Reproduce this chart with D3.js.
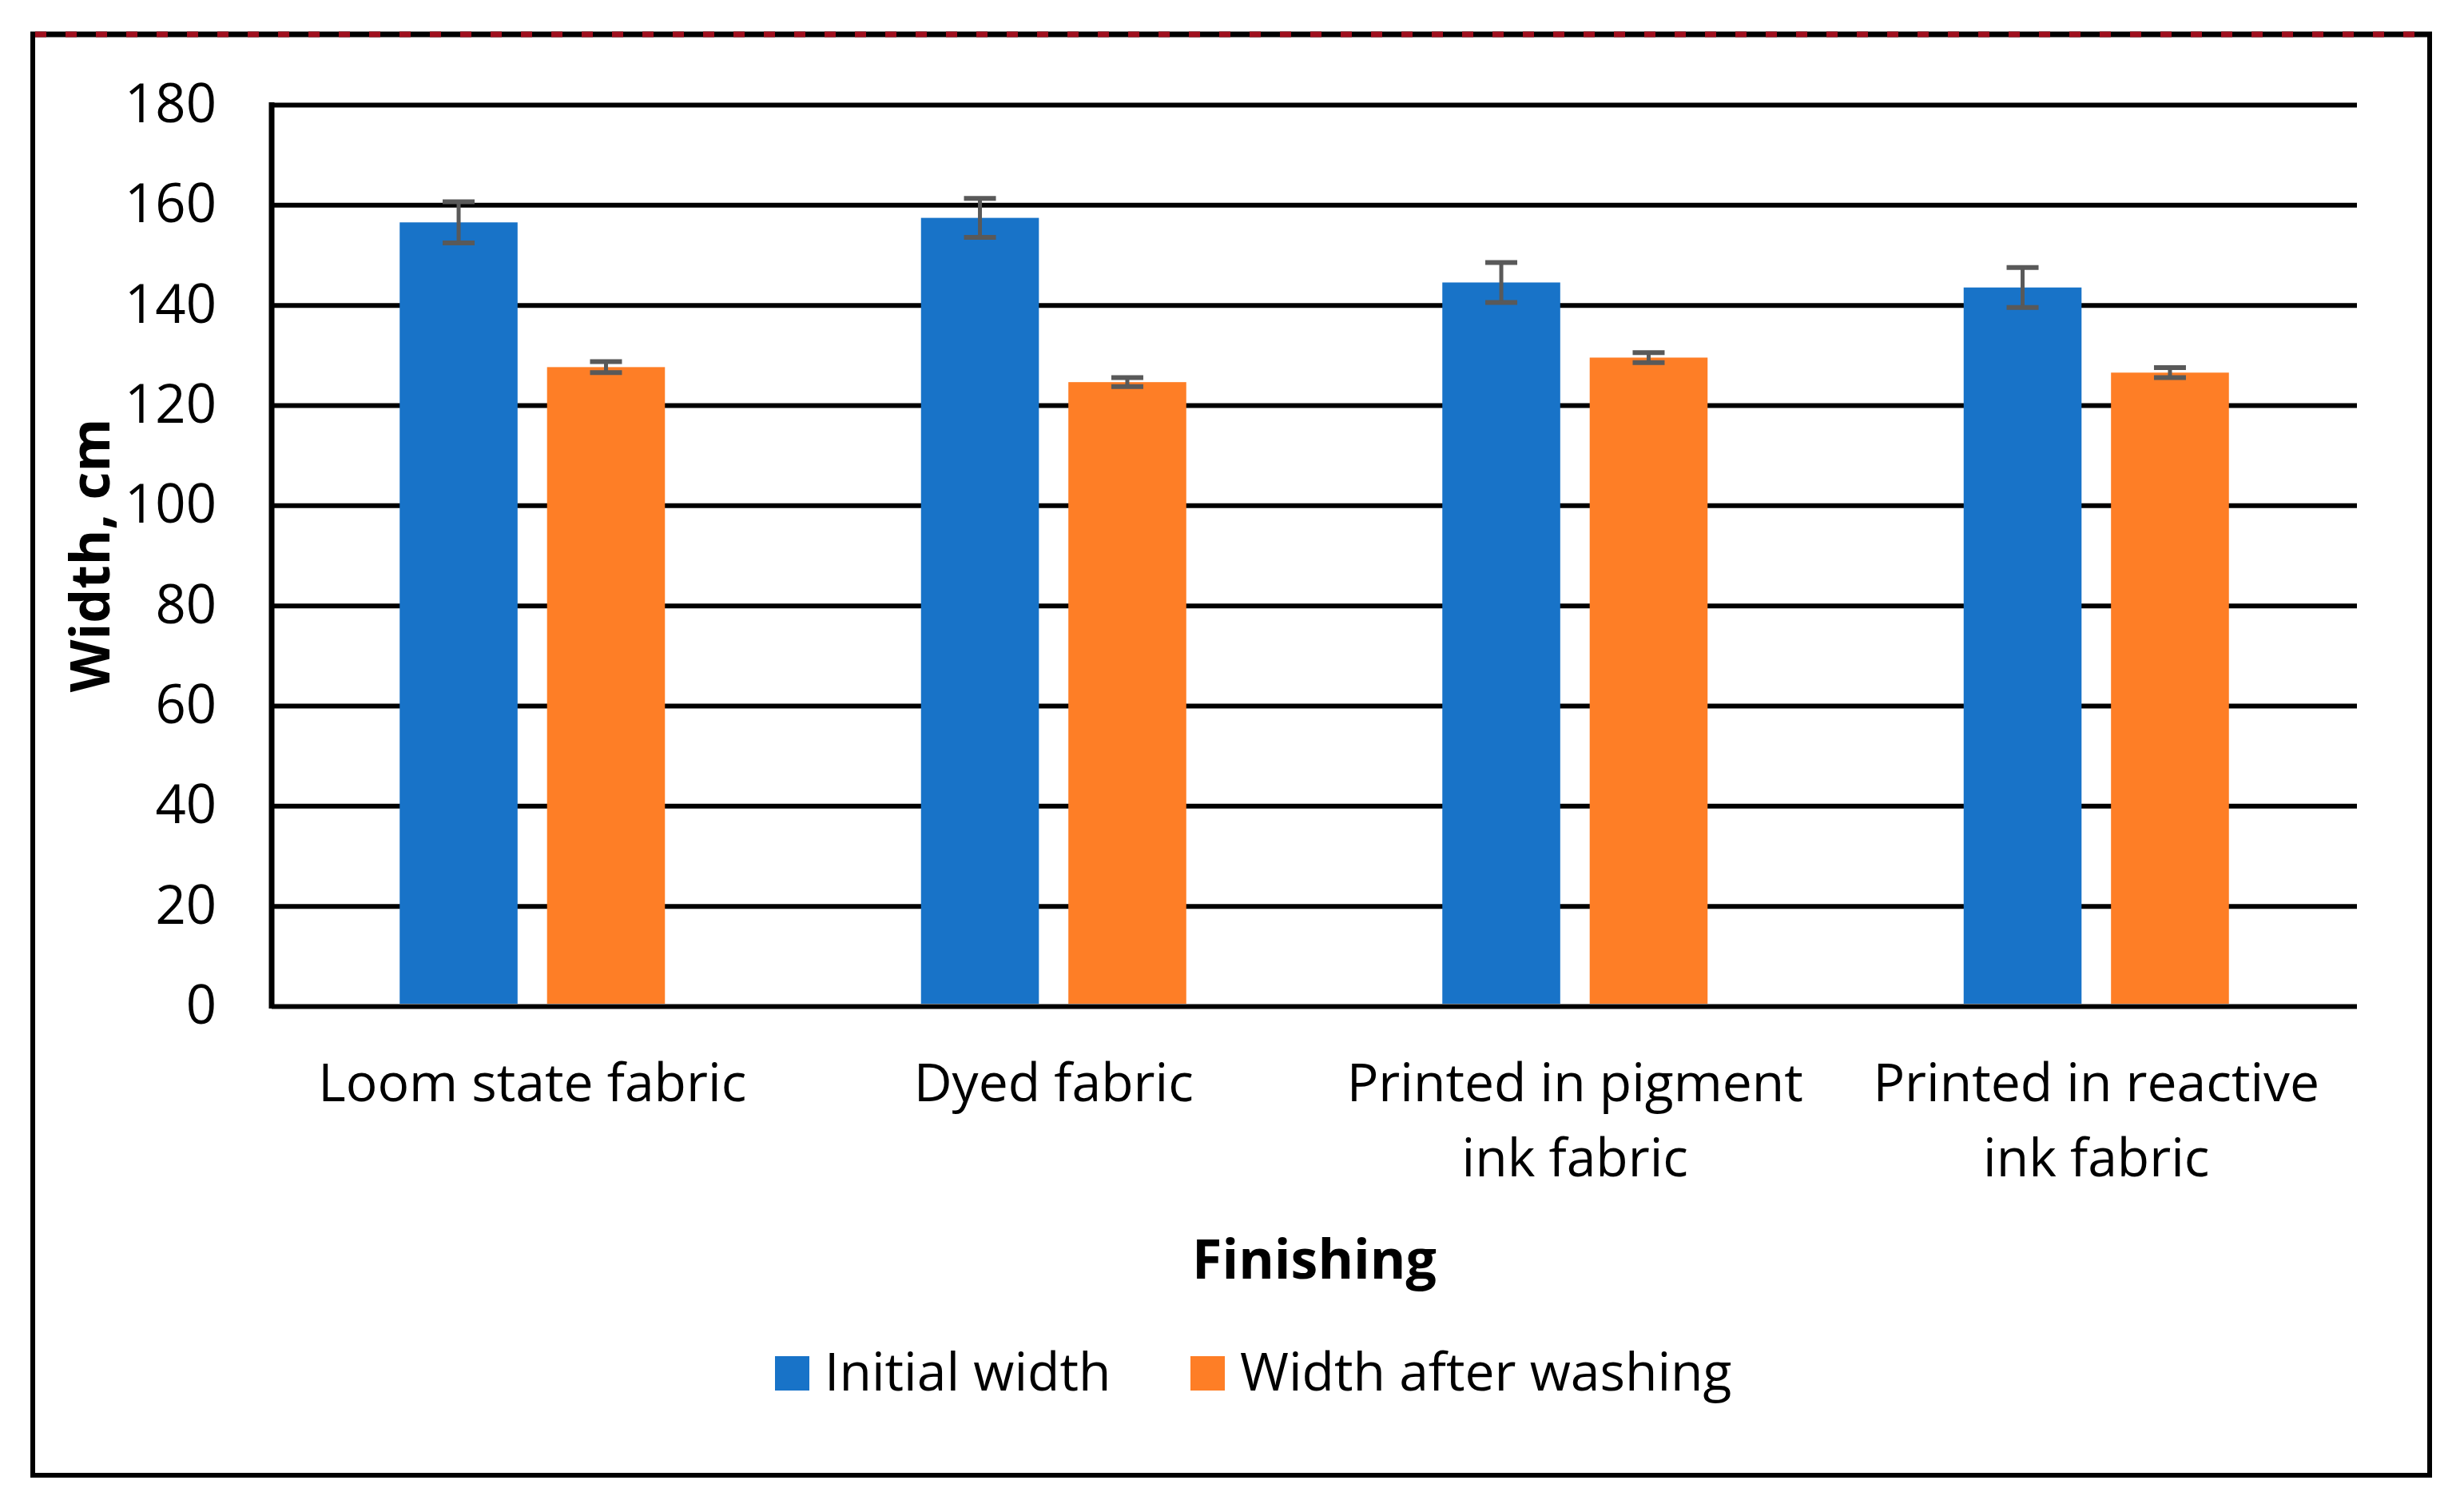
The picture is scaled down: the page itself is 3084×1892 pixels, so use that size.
<!DOCTYPE html>
<html>
<head>
<meta charset="utf-8">
<script src="https://cdn.jsdelivr.net/npm/d3@7"></script>
<style>
  body { margin: 0; background: #fff; }
  svg text { font-family: "Open Sans", sans-serif; fill: #000; }
</style>
</head>
<body>
<svg id="chart"></svg>
<script>
// Width of fabric before and after washing, by finishing
const categories = ['Loom state fabric', 'Dyed fabric', 'Printed in pigment ink fabric', 'Printed in reactive ink fabric'];
const categoryLines = [['Loom state fabric'], ['Dyed fabric'], ['Printed in pigment', 'ink fabric'], ['Printed in reactive', 'ink fabric']];
const series = ['Initial width', 'Width after washing'];
const initialWidth = [156.5, 157.4, 144.5, 143.5];
const initialErr = [4.1, 3.9, 4.0, 4.0];
const afterWashing = [127.6, 124.6, 129.5, 126.5];
const afterErr = [1.1, 0.9, 1.0, 1.0];
const yTicks = [0, 20, 40, 60, 80, 100, 120, 140, 160, 180];

const COLORS = { 'Initial width': '#1873C8', 'Width after washing': '#FE7E26' };

const W = 3084, H = 1892;
const plot = { left: 340, right: 2950, top: 131, bottom: 1259 };

const svg = d3.select('#chart').attr('width', W).attr('height', H);

// outer frame
const frame = svg.append('g');
frame.append('path')
  .attr('d', `M41,43 V1846 H3041 V43`)
  .attr('fill', 'none').attr('stroke', '#000').attr('stroke-width', 6);
frame.append('line').attr('x1', 38).attr('x2', 3044).attr('y1', 43).attr('y2', 43)
  .attr('stroke', '#000').attr('stroke-width', 7);
frame.append('line').attr('x1', 44).attr('x2', 3044).attr('y1', 43).attr('y2', 43)
  .attr('stroke', '#A0101E').attr('stroke-width', 7).attr('stroke-dasharray', '14,24');

const y = d3.scaleLinear().domain([0, 180]).range([plot.bottom, plot.top]);
const x0 = d3.scaleBand().domain(categories).range([plot.left, plot.right]);
const half = 166;
const x1 = d3.scaleBand().domain(series)
  .range([x0.bandwidth() / 2 - half, x0.bandwidth() / 2 + half]).paddingInner(0.2);

// gridlines
svg.append('g')
  .attr('transform', `translate(${plot.left},0)`)
  .call(d3.axisLeft(y).tickValues(yTicks).tickSize(-(plot.right - plot.left)).tickFormat(''))
  .call(g => g.select('.domain').remove())
  .call(g => g.selectAll('.tick line').attr('stroke', '#000').attr('stroke-width', 6));

// left axis line
svg.append('line')
  .attr('x1', plot.left).attr('x2', plot.left)
  .attr('y1', y(180) - 3).attr('y2', y(0) + 3)
  .attr('stroke', '#000').attr('stroke-width', 7);

// tick labels
svg.append('g')
  .attr('transform', `translate(271,0)`)
  .call(d3.axisLeft(y).tickValues(yTicks).tickSize(0).tickPadding(0))
  .call(g => g.select('.domain').remove())
  .call(g => g.selectAll('.tick text')
    .attr('font-size', 67).attr('dy', '0.32em').attr('fill', '#000')
    .style('font-family', '"Open Sans", sans-serif'));

// bars
const rows = categories.map((c, i) => ({
  cat: c,
  vals: [
    { s: series[0], v: initialWidth[i], e: initialErr[i] },
    { s: series[1], v: afterWashing[i], e: afterErr[i] }
  ]
}));

const groups = svg.append('g').selectAll('g')
  .data(rows).join('g')
  .attr('transform', d => `translate(${x0(d.cat)},0)`);

groups.selectAll('rect')
  .data(d => d.vals).join('rect')
  .attr('x', d => x1(d.s))
  .attr('width', x1.bandwidth())
  .attr('y', d => y(d.v))
  .attr('height', d => y(0) - y(d.v) - 3)
  .attr('fill', d => COLORS[d.s]);

// error bars
const err = groups.selectAll('g.err')
  .data(d => d.vals).join('g').attr('class', 'err')
  .attr('stroke', '#595959').attr('stroke-width', 5);
err.append('line')
  .attr('x1', d => x1(d.s) + x1.bandwidth() / 2).attr('x2', d => x1(d.s) + x1.bandwidth() / 2)
  .attr('y1', d => y(d.v + d.e)).attr('y2', d => y(d.v - d.e));
err.append('line')
  .attr('x1', d => x1(d.s) + x1.bandwidth() / 2 - 20).attr('x2', d => x1(d.s) + x1.bandwidth() / 2 + 20)
  .attr('y1', d => y(d.v + d.e)).attr('y2', d => y(d.v + d.e)).attr('stroke-width', 6);
err.append('line')
  .attr('x1', d => x1(d.s) + x1.bandwidth() / 2 - 20).attr('x2', d => x1(d.s) + x1.bandwidth() / 2 + 20)
  .attr('y1', d => y(d.v - d.e)).attr('y2', d => y(d.v - d.e)).attr('stroke-width', 6);

// category labels
const catLabels = svg.append('g').selectAll('text')
  .data(categories).join('text')
  .attr('x', d => x0(d) + x0.bandwidth() / 2)
  .attr('y', 1378)
  .attr('text-anchor', 'middle')
  .attr('font-size', 66);
catLabels.selectAll('tspan')
  .data((d, i) => categoryLines[i]).join('tspan')
  .attr('x', function () { return this.parentNode.getAttribute('x'); })
  .attr('dy', (d, i) => i === 0 ? 0 : 94)
  .text(d => d);

// axis titles
svg.append('text')
  .attr('x', (plot.left + plot.right) / 2).attr('y', 1600)
  .attr('text-anchor', 'middle').attr('font-size', 68).attr('font-weight', 'bold')
  .text('Finishing');

svg.append('text')
  .attr('transform', `translate(137,${(plot.top + plot.bottom) / 2}) rotate(-90)`)
  .attr('text-anchor', 'middle').attr('font-size', 68).attr('font-weight', 'bold')
  .text('Width, cm');

// legend
const legendX = [970, 1490];
const legend = svg.append('g').selectAll('g')
  .data(series).join('g')
  .attr('transform', (d, i) => `translate(${legendX[i]},1697)`);
legend.append('rect').attr('width', 43).attr('height', 43).attr('fill', d => COLORS[d]);
legend.append('text').attr('x', 62).attr('y', 43).attr('font-size', 66).text(d => d);
</script>
</body>
</html>
